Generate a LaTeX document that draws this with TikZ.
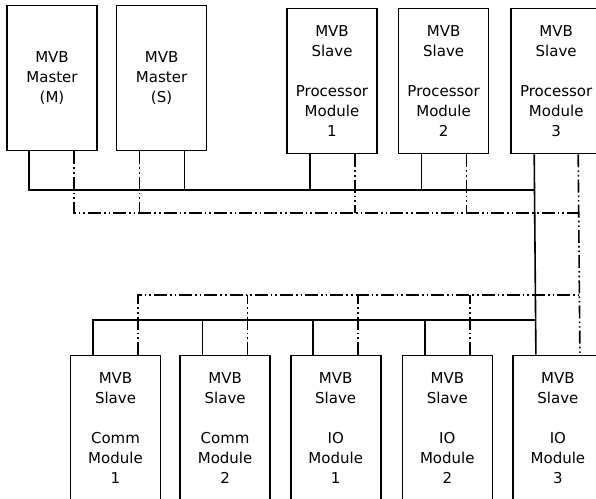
\documentclass[tikz,border=0pt]{standalone}
\usepackage{fontspec}
\setmainfont{DejaVu Sans}
\usetikzlibrary{positioning}

\begin{document}
\begin{tikzpicture}[x=1pt, y=-1pt,
  box/.style={draw, line width=1.6pt, minimum width=90pt, minimum height=145pt, inner sep=0pt, align=center, font=\fontsize{15}{20}\selectfont},
  bus/.style={line width=1.6pt},
  ddbus/.style={line width=1.6pt, dash pattern=on 13pt off 3pt on 1.6pt off 3pt on 1.6pt off 3pt}
]
\useasboundingbox (0,0) rectangle (596,498);
\clip (0,0) rectangle (596,498);

% upper row
\node[box] (mm) at (52,78) {MVB\\Master\\(M)};
\node[box, right=18pt of mm] (ms) {MVB\\Master\\(S)};
\node[box] (p1) at (332,81) {MVB\\Slave\\[20pt]Processor\\Module\\1};
\node[box, right=20pt of p1] (p2) {MVB\\Slave\\[20pt]Processor\\Module\\2};
\node[box, right=21pt of p2] (p3) {MVB\\Slave\\[20pt]Processor\\Module\\3};

% lower row
\node[box] (c1) at (115.5,428) {MVB\\Slave\\[20pt]Comm\\Module\\1};
\node[box, right=18pt of c1] (c2) {MVB\\Slave\\[20pt]Comm\\Module\\2};
\node[box, right=19pt of c2] (io1) {MVB\\Slave\\[20pt]IO\\Module\\1};
\node[box, right=20pt of io1] (io2) {MVB\\Slave\\[20pt]IO\\Module\\2};
\node[box, right=19pt of io2] (io3) {MVB\\Slave\\[20pt]IO\\Module\\3};

\coordinate (topbus) at (0,190);
\coordinate (topdd) at (0,213);
\coordinate (lowdd) at (0,295);
\coordinate (lowbus) at (0,320);

% main lines and the link between the rows
\draw[bus] ([xshift=-23pt]mm.south) |- ([xshift=-22pt]p3.south |- topbus);
\draw[bus] ([xshift=-22pt]p3.south) -- ([xshift=-22pt]io3.north);
\draw[ddbus] ([xshift=22pt]mm.south) |- ([xshift=22pt]p3.south |- topdd);
\draw[ddbus] ([xshift=22pt]p3.south) -- ([xshift=22pt]io3.north);
\draw[bus] ([xshift=-22.5pt]c1.north) |- ([xshift=-22pt]io3.north |- lowbus);
\draw[ddbus] ([xshift=22.5pt]c1.north) |- ([xshift=22pt]io3.north |- lowdd);

% stubs
\foreach \n/\s/\d in {ms/23/-22, p1/-22/23, p2/-22/23} {
  \draw[bus] ([xshift=\s pt]\n.south) -- ([xshift=\s pt]\n.south |- topbus);
  \draw[ddbus] ([xshift=\d pt]\n.south) -- ([xshift=\d pt]\n.south |- topdd);
}
\foreach \n in {c2, io1, io2} {
  \draw[bus] ([xshift=-22.5pt]\n.north) -- ([xshift=-22.5pt]\n.north |- lowbus);
  \draw[ddbus] ([xshift=22.5pt]\n.north) -- ([xshift=22.5pt]\n.north |- lowdd);
}
\end{tikzpicture}
\end{document}
